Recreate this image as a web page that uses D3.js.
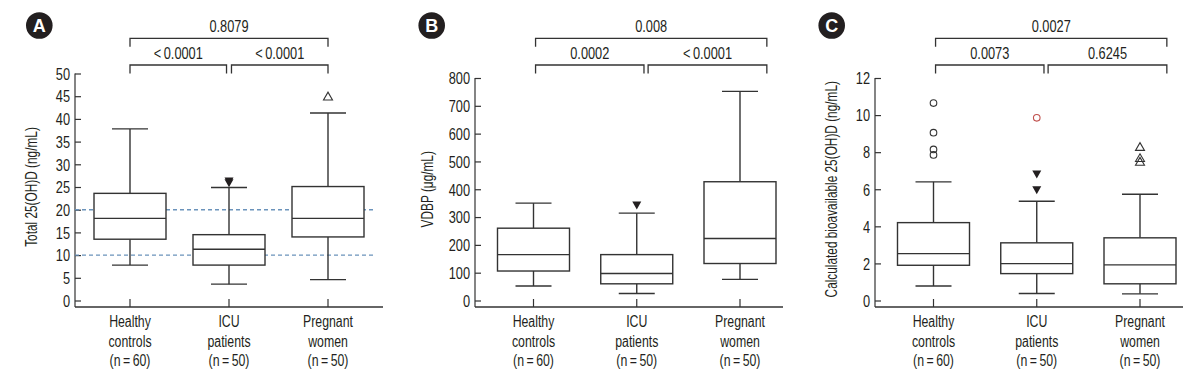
<!DOCTYPE html>
<html>
<head>
<meta charset="utf-8">
<script src="https://cdn.jsdelivr.net/npm/d3@7"></script>
<style>
  html, body { margin: 0; padding: 0; background: #fff; }
  svg text { font-family: "Liberation Sans", Arial, sans-serif; fill: #231f20; }
</style>
</head>
<body>
<svg id="chart" width="1198" height="377"></svg>
<script>
// ---------- data ----------
const categories = [["Healthy", "controls", "(n\u2009=\u200960)"],
                    ["ICU", "patients", "(n\u2009=\u200950)"],
                    ["Pregnant", "women", "(n\u2009=\u200950)"]];

// [lower whisker, Q1, median, Q3, upper whisker]
const totalStats = [[7.8, 13.5, 18.1, 23.6, 37.8],
                    [3.6, 7.8, 11.3, 14.5, 24.9],
                    [4.6, 14.0, 18.1, 25.1, 41.3]];
const vdbpStats  = [[52, 106, 165, 260, 350],
                    [25, 60, 97, 165, 314],
                    [76, 133, 223, 427, 752]];
const bioStats   = [[0.78, 1.9, 2.53, 4.2, 6.4],
                    [0.38, 1.45, 1.99, 3.11, 5.35],
                    [0.36, 0.9, 1.92, 3.38, 5.73]];

// [category index, value, marker]
const totalOutliers = [[1, 25.8, "triDown"], [1, 26.2, "triDown"], [2, 45.0, "triUp"]];
const vdbpOutliers  = [[1, 342, "triDown"]];
const bioOutliers   = [[0, 10.65, "circle"], [0, 9.05, "circle"], [0, 8.15, "circle"], [0, 7.85, "circle"],
                       [1, 9.85, "circleRed"], [1, 6.8, "triDown"], [1, 5.95, "triDown"],
                       [2, 8.3, "triUp"], [2, 7.7, "triUp"], [2, 7.5, "triUp"]];

const totalTicks = [0, 5, 10, 15, 20, 25, 30, 35, 40, 45, 50];
const vdbpTicks  = [0, 100, 200, 300, 400, 500, 600, 700, 800];
const bioTicks   = [0, 2, 4, 6, 8, 10, 12];

const totalRefLines = [10, 20];

// p-values: [overall (first vs last), first vs second, second vs third]
const totalP = ["0.8079", "<\u20090.0001", "<\u20090.0001"];
const vdbpP  = ["0.008", "0.0002", "<\u20090.0001"];
const bioP   = ["0.0027", "0.0073", "0.6245"];

// bracket anchors in category-index units: [left, mid-left end, mid-right start, right]
const totalBracketIdx = [0, 0.975, 1.025, 2];
const vdbpBracketIdx  = [0.02, 1.07, 1.11, 2.26];
const bioBracketIdx   = [0.02, 1.07, 1.11, 2.26];

const panelLetters = ["A", "B", "C"];
const yTitles = ["Total 25(OH)D (ng/mL)", "VDBP (\u03bcg/mL)", "Calculated bioavailable 25(OH)D (ng/mL)"];

// ---------- drawing ----------
const svg = d3.select("#chart");
const INK = "#333333";
const FONT = 16;
const SX_NUM = 0.8, SX_WORD = 0.77, SX_TITLE = 0.74;

function condText(g, x, y, str, sx, anchor) {
  return g.append("text")
    .attr("transform", `translate(${x},${y}) scale(${sx},1)`)
    .attr("text-anchor", anchor || "middle")
    .style("font-size", FONT + "px")
    .text(str);
}

const panels = [
  { x0: 0,   letter: panelLetters[0], title: yTitles[0], stats: totalStats, outliers: totalOutliers, ticks: totalTicks,
    domain: [0, 50], yTop: 73.5, catRange: [55, 253], bracketIdx: totalBracketIdx, p: totalP, ref: totalRefLines,
    letterX: 39.3, titleX: 31 },
  { x0: 400, letter: panelLetters[1], title: yTitles[1], stats: vdbpStats, outliers: vdbpOutliers, ticks: vdbpTicks,
    domain: [0, 800], yTop: 78, catRange: [58.5, 265], bracketIdx: vdbpBracketIdx, p: vdbpP, ref: [],
    letterX: 31.7, titleX: 27.5 },
  { x0: 800, letter: panelLetters[2], title: yTitles[2], stats: bioStats, outliers: bioOutliers, ticks: bioTicks,
    domain: [0, 12], yTop: 78, catRange: [58.5, 265], bracketIdx: bioBracketIdx, p: bioP, ref: [],
    letterX: 31.7, titleX: 31 }
];

const AXIS_X = 75, AXIS_W = 308, Y0 = 300.5, XAXIS_Y = 307;
const BOX_W = 72, CAP_W = 36;

panels.forEach(p => {
  const g = svg.append("g").attr("transform", `translate(${p.x0},0)`);
  const y = d3.scaleLinear().domain(p.domain).range([Y0, p.yTop]);
  const xi = d3.scaleLinear().domain([0, 2]).range([AXIS_X + p.catRange[0], AXIS_X + p.catRange[1]]);
  const xCat = d3.scalePoint().domain(d3.range(categories.length)).range([AXIS_X + p.catRange[0], AXIS_X + p.catRange[1]]);

  // panel letter
  g.append("circle").attr("cx", p.letterX).attr("cy", 25.5).attr("r", 13.3).attr("fill", "#231f20");
  g.append("text").attr("x", p.letterX).attr("y", 25.5).attr("dy", "0.36em")
    .attr("text-anchor", "middle")
    .style("font-weight", "bold").style("font-size", "18px").style("fill", "#fff").text(p.letter);

  // y axis
  const yAxis = d3.axisRight(y).tickValues(p.ticks).tickSize(6);
  const ya = g.append("g").attr("transform", `translate(${AXIS_X},0)`).call(yAxis);
  ya.select(".domain").remove();
  ya.selectAll(".tick line").attr("stroke", INK).attr("stroke-width", 1.2);
  ya.selectAll(".tick text")
    .attr("x", null).attr("dy", "0.36em")
    .attr("transform", `translate(-5,0) scale(${SX_NUM},1)`)
    .attr("text-anchor", "end")
    .attr("font-family", null).attr("font-size", null)
    .style("font-size", FONT + "px").style("fill", "#231f20");
  g.append("line").attr("x1", AXIS_X).attr("x2", AXIS_X).attr("y1", y(p.domain[1])).attr("y2", XAXIS_Y)
    .attr("stroke", INK).attr("stroke-width", 1.2);

  // x axis
  g.append("line").attr("x1", AXIS_X).attr("x2", AXIS_X + AXIS_W).attr("y1", XAXIS_Y).attr("y2", XAXIS_Y)
    .attr("stroke", INK).attr("stroke-width", 1.4);
  categories.forEach((c, i) => {
    g.append("line").attr("x1", xCat(i)).attr("x2", xCat(i)).attr("y1", XAXIS_Y).attr("y2", XAXIS_Y - 8)
      .attr("stroke", INK).attr("stroke-width", 1.2);
    const t = g.append("text").attr("text-anchor", "middle")
      .attr("transform", `translate(${xCat(i)},0) scale(${SX_WORD},1)`)
      .style("font-size", FONT + "px");
    c.forEach((line, k) => {
      t.append("tspan").attr("x", 0).attr("y", 327.5 + k * 19.3).text(line);
    });
  });

  // y title
  g.append("text").attr("transform", `translate(${p.titleX},${(Y0 + p.yTop) / 2}) rotate(-90) scale(${SX_TITLE},1)`)
    .attr("text-anchor", "middle").attr("dy", "0.36em").style("font-size", FONT + "px").text(p.title);

  // reference lines
  p.ref.forEach(v => {
    g.append("line").attr("x1", AXIS_X).attr("x2", AXIS_X + 300).attr("y1", y(v)).attr("y2", y(v))
      .attr("stroke", "#6b93bb").attr("stroke-width", 1.4).attr("stroke-dasharray", "4,3");
  });

  // boxes
  p.stats.forEach((s, i) => {
    const cx = xCat(i);
    const [lo, q1, med, q3, hi] = s;
    const bg = g.append("g").attr("stroke", INK).attr("stroke-width", 1.4).attr("fill", "none");
    bg.append("line").attr("x1", cx).attr("x2", cx).attr("y1", y(hi)).attr("y2", y(q3));
    bg.append("line").attr("x1", cx).attr("x2", cx).attr("y1", y(q1)).attr("y2", y(lo));
    bg.append("line").attr("x1", cx - CAP_W / 2).attr("x2", cx + CAP_W / 2).attr("y1", y(hi)).attr("y2", y(hi));
    bg.append("line").attr("x1", cx - CAP_W / 2).attr("x2", cx + CAP_W / 2).attr("y1", y(lo)).attr("y2", y(lo));
    bg.append("rect").attr("x", cx - BOX_W / 2).attr("y", y(q3)).attr("width", BOX_W).attr("height", y(q1) - y(q3))
      .attr("fill", "#fff");
    bg.append("line").attr("x1", cx - BOX_W / 2).attr("x2", cx + BOX_W / 2).attr("y1", y(med)).attr("y2", y(med));
  });

  // outliers
  p.outliers.forEach(([i, v, m]) => {
    const cx = xCat(i), cy = y(v);
    if (m === "circle" || m === "circleRed") {
      g.append("circle").attr("cx", cx).attr("cy", cy).attr("r", 3.3).attr("fill", "none")
        .attr("stroke", m === "circleRed" ? "#c0504d" : INK).attr("stroke-width", 1.1);
    } else if (m === "triDown") {
      g.append("path").attr("d", `M${cx - 4.5},${cy - 4} L${cx + 4.5},${cy - 4} L${cx},${cy + 4} Z`)
        .attr("fill", "#231f20");
    } else {
      g.append("path").attr("d", `M${cx - 4.5},${cy + 3.8} L${cx + 4.5},${cy + 3.8} L${cx},${cy - 4} Z`)
        .attr("fill", "none").attr("stroke", INK).attr("stroke-width", 1.1);
    }
  });

  // significance brackets
  const [bL, bM1, bM2, bR] = p.bracketIdx.map(xi);
  const bracket = (x1, x2, yy) => {
    g.append("path").attr("d", `M${x1},${yy + 8.4} V${yy} H${x2} V${yy + 8.4}`)
      .attr("fill", "none").attr("stroke", INK).attr("stroke-width", 1.3);
  };
  bracket(bL, bR, 38.3);
  bracket(bL, bM1, 65);
  bracket(bM2, bR, 65);
  condText(g, (bL + bR) / 2, 32, p.p[0], SX_NUM);
  condText(g, (bL + bM1) / 2, 59, p.p[1], SX_NUM);
  condText(g, (bM2 + bR) / 2, 59, p.p[2], SX_NUM);
});
</script>
</body>
</html>
